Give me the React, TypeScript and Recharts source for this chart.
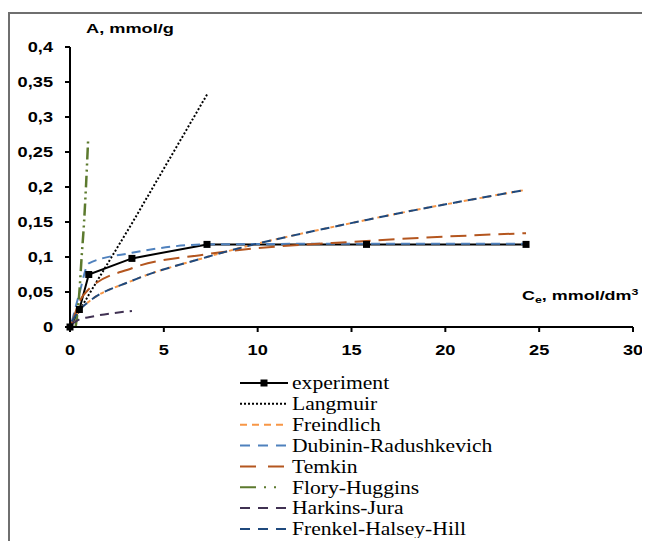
import React from 'react'
import { LineChart, Line, XAxis, YAxis, Legend } from 'recharts'

// x values (Ce, mmol/dm3) and y values (A, mmol/g) per series
const expX = [0, 0.5, 1.0, 3.3, 7.3, 15.8, 24.3]
const expY = [0, 0.025, 0.075, 0.098, 0.118, 0.118, 0.118]

const langmuirX = [0.1, 0.5, 1.0, 3.3, 7.3]
const langmuirY = [0.005, 0.023, 0.046, 0.148, 0.332]

const freundlichX = [0.1, 0.5, 1.0, 3.3, 7.3, 15.8, 24.3]
const freundlichY = [0.008, 0.024, 0.036, 0.066, 0.1, 0.153, 0.196]

const drX = [0.1, 0.5, 1.0, 3.3, 7.3, 15.8, 24.3]
const drY = [0.008, 0.048, 0.091, 0.106, 0.118, 0.119, 0.119]

const temkinX = [0.1, 0.5, 1.0, 3.3, 7.3, 15.8, 24.3]
const temkinY = [0.005, 0.036, 0.054, 0.084, 0.104, 0.123, 0.134]

const floryX = [0.3, 0.5, 0.62, 0.75, 0.85, 0.97]
const floryY = [0.0, 0.05, 0.1, 0.15, 0.2, 0.27]

const harkinsX = [0.1, 0.5, 1.0, 3.3]
const harkinsY = [0.004, 0.011, 0.014, 0.023]

const fhhX = [0.1, 0.5, 1.0, 3.3, 7.3, 15.8, 24.3]
const fhhY = [0.008, 0.024, 0.036, 0.066, 0.1, 0.153, 0.196]

const xTicks = [0, 5, 10, 15, 20, 25, 30]
const yTicks = [0, 0.05, 0.1, 0.15, 0.2, 0.25, 0.3, 0.35, 0.4]

const toPoints = (xs: number[], ys: number[]) => xs.map((x, i) => ({ x, y: ys[i] }))

const series = [
  { name: 'experiment', data: toPoints(expX, expY), color: '#000000', dash: undefined, width: 2, type: 'linear', legendDash: undefined },
  { name: 'Langmuir', data: toPoints(langmuirX, langmuirY), color: '#000000', dash: '2 2', width: 2, type: 'linear', legendDash: '2 2' },
  { name: 'Freindlich', data: toPoints(freundlichX, freundlichY), color: '#F79646', dash: '4 4', width: 2, type: 'monotone', legendDash: '7 5' },
  { name: 'Dubinin-Radushkevich', data: toPoints(drX, drY), color: '#4F81BD', dash: '9 6', width: 2, type: 'monotone', legendDash: '10 8' },
  { name: 'Temkin', data: toPoints(temkinX, temkinY), color: '#B4561F', dash: '16 8', width: 2, type: 'monotone', legendDash: '16 12' },
  { name: 'Flory-Huggins', data: toPoints(floryX, floryY), color: '#5C7A2E', dash: '12 4 2 4 2 4', width: 2.5, type: 'monotone', legendDash: '16 8 2 8 2 20' },
  { name: 'Harkins-Jura', data: toPoints(harkinsX, harkinsY), color: '#403152', dash: '9 6', width: 2, type: 'monotone', legendDash: '10 8' },
  { name: 'Frenkel-Halsey-Hill', data: toPoints(fhhX, fhhY), color: '#1F497D', dash: '9 6', width: 2, type: 'monotone', legendDash: '10 8' },
]

const fmt = (v: number) => String(Math.round(v * 100) / 100).replace('.', ',')

const sansBold = { fontFamily: '"Liberation Sans", Arial, sans-serif', fontWeight: 'bold' as const }

const YTick = ({ x, y, payload }: any) => (
  <g transform={`translate(${x},${y}) scale(1.3,1)`}>
    <text textAnchor="end" dy="0.35em" fontSize={14} fill="#000" {...sansBold}>
      {fmt(payload.value)}
    </text>
  </g>
)

const XTick = ({ x, y, payload }: any) => (
  <g transform={`translate(${x},${y}) scale(1.3,1)`}>
    <text textAnchor="middle" dy="0.71em" fontSize={14} fill="#000" {...sansBold}>
      {fmt(payload.value)}
    </text>
  </g>
)

const SquareDot = ({ cx, cy }: any) => (
  <rect x={cx - 3.5} y={cy - 3.5} width={7} height={7} fill="#000" />
)

const LegendBox = () => (
  <svg width={320} height={165} style={{ display: 'block' }}>
    {series.map((s, i) => {
      const cy = 10 + i * 20.85
      return (
        <g key={s.name}>
          <line x1={0} x2={48} y1={cy} y2={cy} stroke={s.color} strokeWidth={2} strokeDasharray={s.legendDash} />
          {s.name === 'experiment' && <rect x={20.5} y={cy - 3.5} width={7} height={7} fill="#000" />}
          <g transform={`translate(52,${cy}) scale(1.2,1)`}>
            <text dy="0.35em" fontSize={18} fill="#000" fontFamily='"Liberation Serif", "Times New Roman", serif'>
              {s.name}
            </text>
          </g>
        </g>
      )
    })}
  </svg>
)

export default function App() {
  return (
    <>
      <style>{'html, body { overflow: hidden; } .recharts-surface { overflow: visible; }'}</style>
      <div
        style={{
          position: 'relative',
          width: 634,
          height: 529,
          marginTop: 4,
          borderTop: '2px solid #6f6f6f',
          borderLeft: '2px solid #6f6f6f',
          boxSizing: 'border-box',
          background: '#fff',
        }}
      >
        <LineChart width={632} height={527} margin={{ top: 33, right: 9, left: 0, bottom: 174 }}>
          <XAxis
            type="number"
            dataKey="x"
            domain={[0, 30]}
            ticks={xTicks}
            interval={0}
            height={40}
            tickSize={5}
            tickMargin={13}
            axisLine={{ stroke: '#000', strokeWidth: 2 }}
            tickLine={{ stroke: '#000', strokeWidth: 2 }}
            tick={<XTick />}
            allowDuplicatedCategory={false}
            label={{
              content: () => (
                <g transform="translate(512,286) scale(1.38,1)">
                  <text fontSize={13} fill="#000" {...sansBold}>
                    C<tspan fontSize={9} dy={3}>e</tspan>
                    <tspan dy={-3}>, mmol/dm</tspan>
                    <tspan fontSize={9} dy={-5}>3</tspan>
                  </text>
                </g>
              ),
            }}
          />
          <YAxis
            type="number"
            dataKey="y"
            domain={[0, 0.4]}
            ticks={yTicks}
            interval={0}
            width={60}
            tickSize={5}
            tickMargin={12}
            axisLine={{ stroke: '#000', strokeWidth: 2 }}
            tickLine={{ stroke: '#000', strokeWidth: 2 }}
            tick={<YTick />}
            label={{
              content: () => (
                <g transform="translate(76,19) scale(1.4,1)">
                  <text fontSize={13} fill="#000" {...sansBold}>
                    A, mmol/g
                  </text>
                </g>
              ),
            }}
          />
          <Legend
            layout="vertical"
            align="center"
            verticalAlign="middle"
            wrapperStyle={{ position: 'absolute', left: 230, top: 359, width: 320 }}
            content={() => <LegendBox />}
          />
          {series.map((s) => (
            <Line
              key={s.name}
              name={s.name}
              data={s.data}
              dataKey="y"
              type={s.type as any}
              stroke={s.color}
              strokeWidth={s.width}
              strokeDasharray={s.dash}
              dot={s.name === 'experiment' ? <SquareDot /> : false}
              activeDot={false}
              isAnimationActive={false}
            />
          ))}
        </LineChart>
      </div>
    </>
  )
}
